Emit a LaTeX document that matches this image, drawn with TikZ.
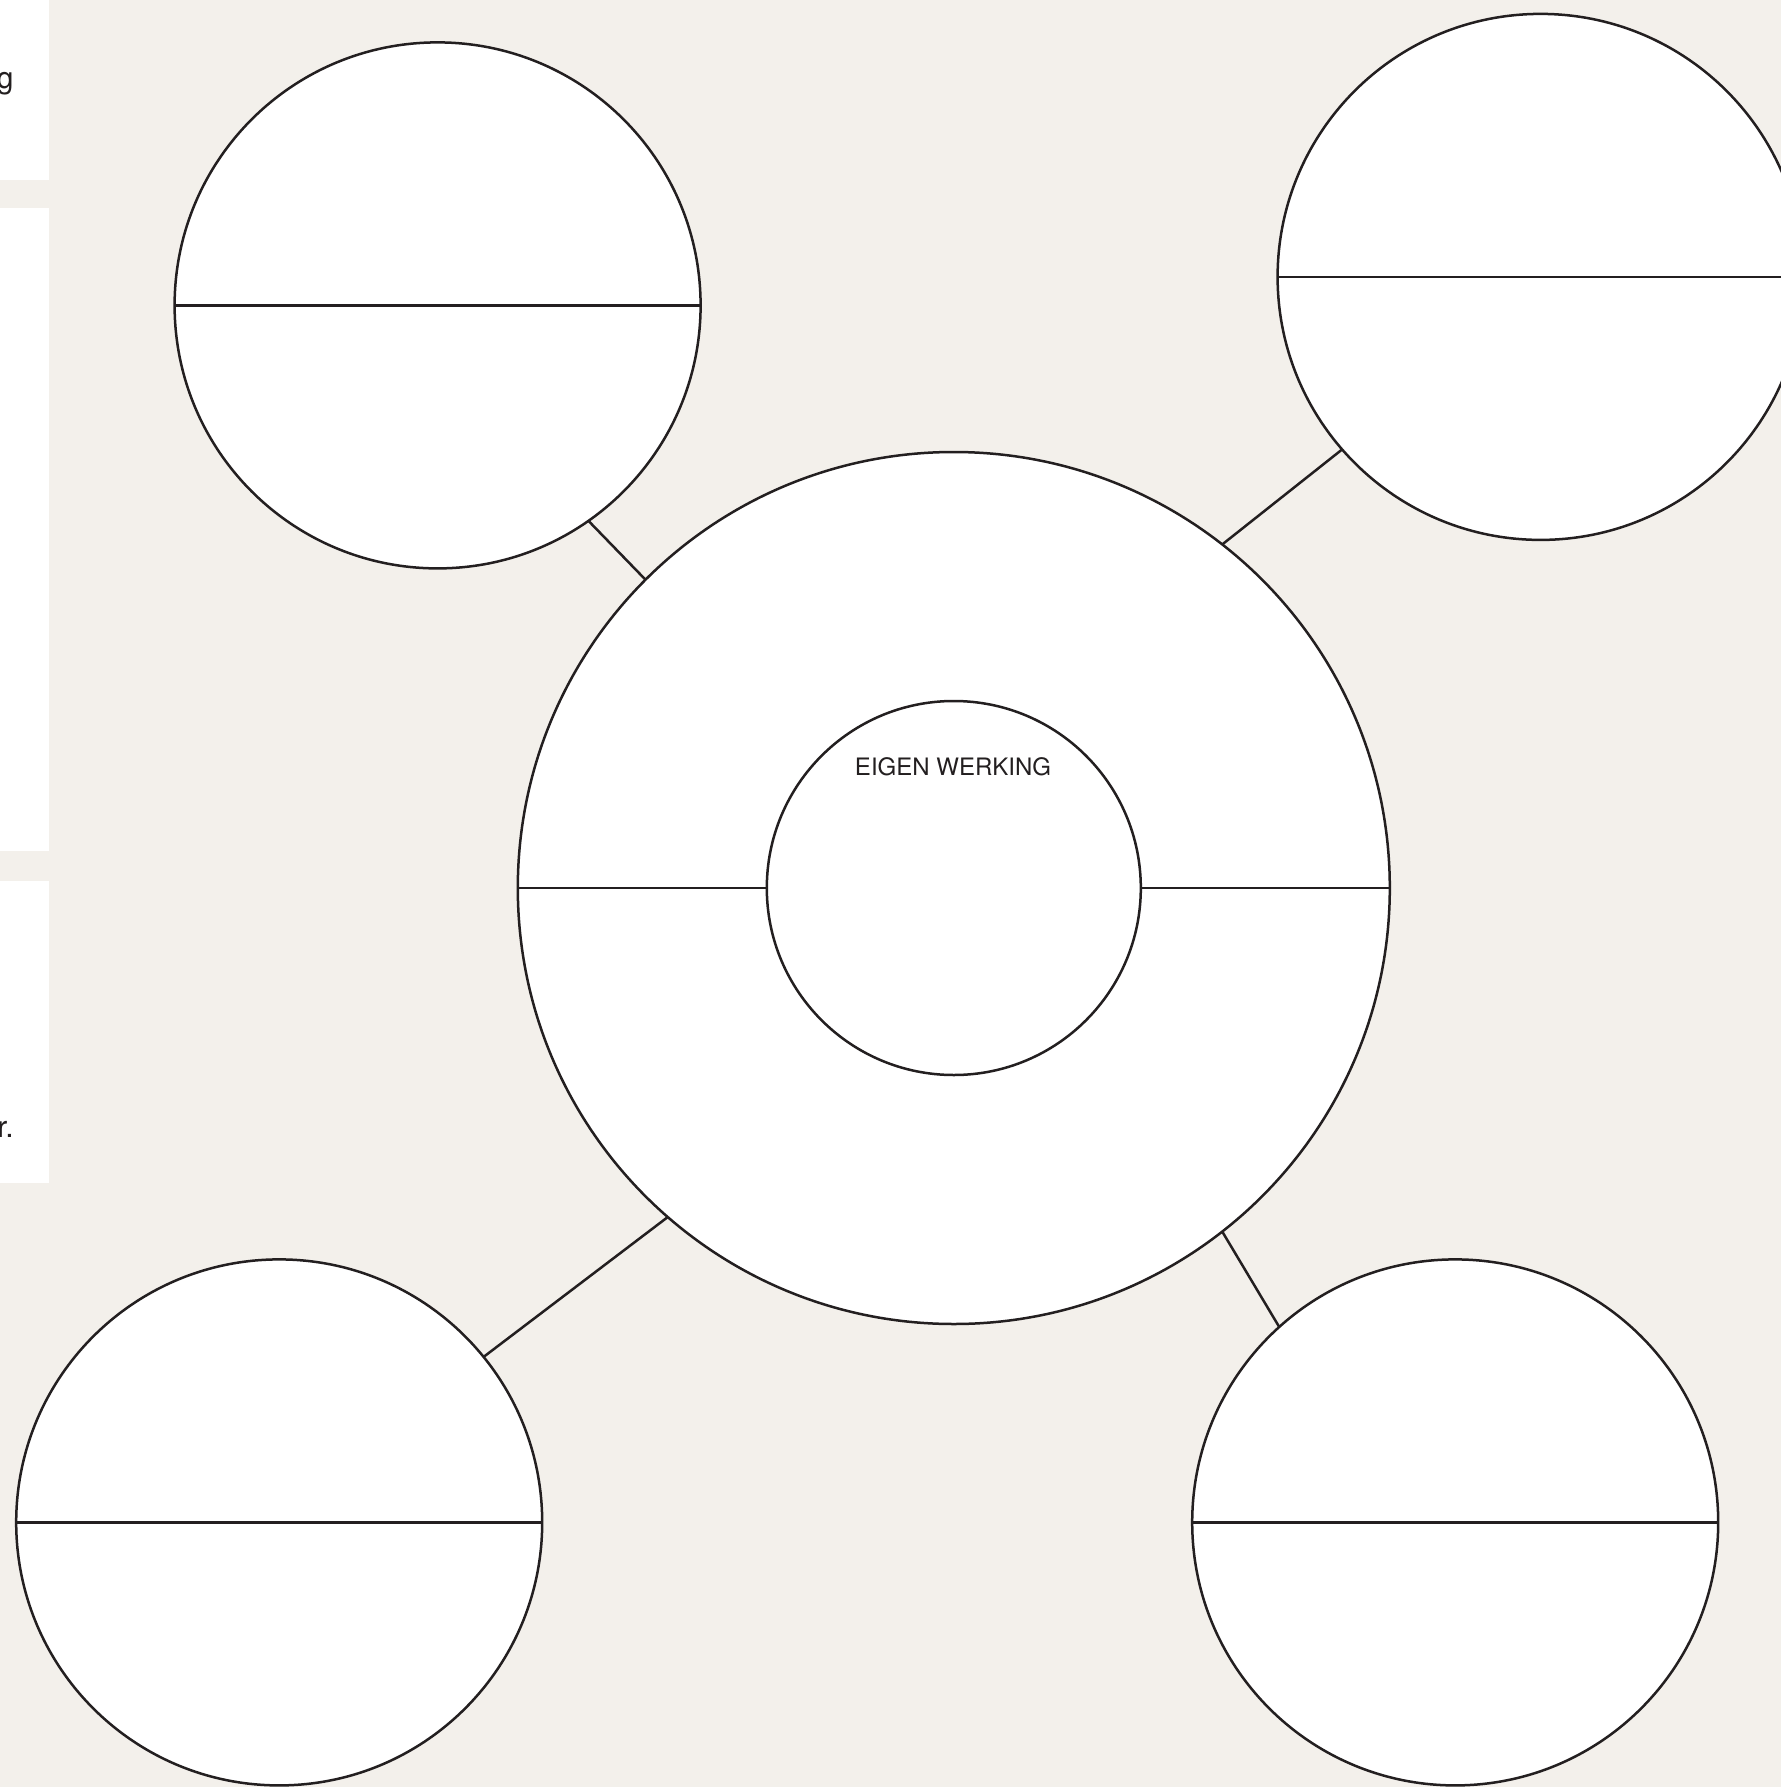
\documentclass[tikz,border=0pt]{standalone}
\usepackage{fontspec}
\setmainfont{TeX Gyre Heros}
\definecolor{bg}{RGB}{243,240,235}
\definecolor{ink}{RGB}{35,31,32}
\begin{document}
\begin{tikzpicture}[x=0.5pt,y=-0.5pt,
  bubble/.style={circle,draw=ink,fill=white,line width=1.25pt,inner sep=0pt,outer sep=0pt},
  rim/.style={draw=ink,line width=1.25pt},
  panel/.style={fill=white,draw=none},
  cut/.style={font=\fontsize{15}{18}\selectfont,text=ink,inner sep=0pt}]
\useasboundingbox (0,0) rectangle (1781,1787);
\clip (0,0) rectangle (1781,1787);
\fill[bg] (0,0) rectangle (1781,1787);
% left panels
\fill[panel] (0,0) rectangle (49,180);
\fill[panel] (0,208) rectangle (49,851);
\fill[panel] (0,881) rectangle (49,1183);
\node[cut,anchor=base east] (pg) at (14,89) {g};
\node[cut,anchor=base east] (pr) at (14,1137) {r.};
% circles
\node[bubble,minimum size=436pt] (c) at (953.8,888) {};
\node[bubble,minimum size=187pt] (in) at (953.8,888) {};
\node[bubble,minimum size=263pt] (tl) at (437.6,305.4) {};
\node[bubble,minimum size=263pt] (tr) at (1540.6,276.9) {};
\node[bubble,minimum size=263pt] (bl) at (279.2,1522.4) {};
\node[bubble,minimum size=263pt] (br) at (1455.2,1522.4) {};
% dividing lines
\draw[rim] (c.west) -- (in.west);
\draw[rim] (in.east) -- (c.east);
\draw[rim] (tl.west) -- (tl.east);
\draw[rim] (tr.west) -- (tr.east);
\draw[rim] (bl.west) -- (bl.east);
\draw[rim] (br.west) -- (br.east);
% connectors
\draw[rim] (tl.-55.6) -- (c.135);
\draw[rim] (tr.221) -- (c.52.1);
\draw[rim] (bl.39.7) -- (c.229);
\draw[rim] (br.132.2) -- (c.-52.9);
% label
\node[font=\fontsize{12}{14}\selectfont,text=ink,anchor=base,inner sep=0pt] (lab) at (953,775) {EIGEN WERKING};
\end{tikzpicture}
\end{document}
